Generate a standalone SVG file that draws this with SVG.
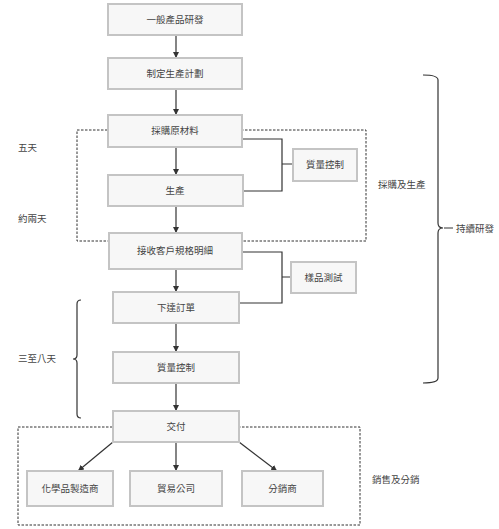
<svg xmlns="http://www.w3.org/2000/svg" width="499" height="529" viewBox="0 0 499 529">
<style>
.box{fill:#f7f7f7;stroke:#c4c4c4;stroke-width:2}
.t{font-family:"Liberation Serif","Noto Sans CJK TC",serif;font-size:9.5px;fill:#444;text-anchor:middle;dominant-baseline:central}
.l{font-family:"Liberation Serif","Noto Sans CJK TC",serif;font-size:9.5px;fill:#444;dominant-baseline:central}
.c{fill:none;stroke:#333;stroke-width:1.2}
.d{fill:none;stroke:#333;stroke-width:1;stroke-dasharray:2.5,1.5}
</style>
<defs>
<marker id="ah" viewBox="0 0 10 10" refX="10" refY="5" markerWidth="6" markerHeight="6" orient="auto" markerUnits="userSpaceOnUse">
<path d="M0,0 L10,5 L0,10 z" fill="#333"/>
</marker>
</defs>
<rect class="d" x="77" y="130" width="289" height="111"/>
<rect class="d" x="18" y="427" width="342" height="98"/>
<g id="connectors">
<line class="c" x1="176" y1="35" x2="176" y2="58" marker-end="url(#ah)"/>
<line class="c" x1="176" y1="89" x2="176" y2="115" marker-end="url(#ah)"/>
<line class="c" x1="176" y1="147" x2="176" y2="175" marker-end="url(#ah)"/>
<line class="c" x1="176" y1="206" x2="176" y2="233" marker-end="url(#ah)"/>
<line class="c" x1="176" y1="269" x2="176" y2="292" marker-end="url(#ah)"/>
<line class="c" x1="176" y1="323" x2="176" y2="352" marker-end="url(#ah)"/>
<line class="c" x1="176" y1="383" x2="176" y2="411" marker-end="url(#ah)"/>
<line class="c" x1="176" y1="442" x2="176" y2="471" marker-end="url(#ah)"/>
<line class="c" x1="113" y1="442" x2="78" y2="471" marker-end="url(#ah)"/>
<line class="c" x1="239" y1="442" x2="277" y2="471" marker-end="url(#ah)"/>
<path class="c" d="M242,139 H282 V191 H243 M282,164 H293"/>
<path class="c" d="M242,252 H282 V303 H239 M282,277 H291"/>
<path class="c" d="M81,300 Q77,300 77,304 V355 Q77,359 73,359 Q77,359 77,363 V414 Q77,418 81,418"/>
<path class="c" d="M423,75 Q438,75 438,80 V223 Q438,228 443,228 Q438,228 438,233 V378 Q438,383 423,383 M444,228 H453"/>
</g>
<g id="n1"><rect class="box" x="108" y="4" width="134" height="31"/><text class="t" x="175" y="19.5">一般產品研發</text></g>
<g id="n2"><rect class="box" x="108" y="58" width="134" height="31"/><text class="t" x="175" y="73.5">制定生產計劃</text></g>
<g id="n3"><rect class="box" x="108" y="115" width="134" height="32"/><text class="t" x="175" y="131">採購原材料</text></g>
<g id="n4"><rect class="box" x="108" y="175" width="135" height="31"/><text class="t" x="175" y="190.5">生產</text></g>
<g id="n5"><rect class="box" x="109" y="233" width="133" height="36"/><text class="t" x="175" y="251">接收客戶規格明細</text></g>
<g id="n6"><rect class="box" x="113" y="292" width="126" height="31"/><text class="t" x="176" y="307.5">下達訂單</text></g>
<g id="n7"><rect class="box" x="113" y="352" width="126" height="31"/><text class="t" x="176" y="367.5">質量控制</text></g>
<g id="n8"><rect class="box" x="113" y="411" width="126" height="31"/><text class="t" x="176" y="426.5">交付</text></g>
<g id="qc"><rect class="box" x="293" y="149" width="64" height="32"/><text class="t" x="325" y="165">質量控制</text></g>
<g id="st"><rect class="box" x="291" y="262" width="65" height="31"/><text class="t" x="323.5" y="277.5">樣品測試</text></g>
<g id="b1"><rect class="box" x="27" y="471" width="86" height="35"/><text class="t" x="70" y="488.5">化學品製造商</text></g>
<g id="b2"><rect class="box" x="130" y="471" width="92" height="35"/><text class="t" x="176" y="488.5">貿易公司</text></g>
<g id="b3"><rect class="box" x="242" y="471" width="81" height="35"/><text class="t" x="282.5" y="488.5">分銷商</text></g>
<text class="l" x="18" y="148">五天</text>
<text class="l" x="18" y="219">約兩天</text>
<text class="l" x="18" y="359">三至八天</text>
<text class="l" x="378" y="185">採購及生產</text>
<text class="l" x="456" y="229">持續研發</text>
<text class="l" x="372" y="480">銷售及分銷</text>
</svg>
